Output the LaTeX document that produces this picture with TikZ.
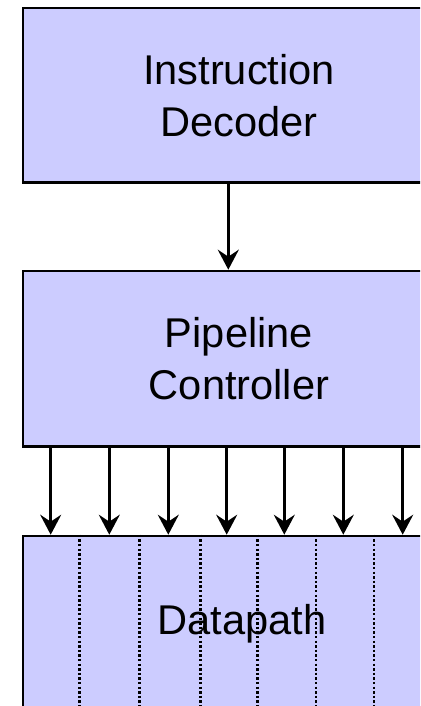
\documentclass[tikz,border=0pt]{standalone}
\usepackage{fontspec}
\setmainfont{Liberation Sans}
\usetikzlibrary{arrows.meta}
\definecolor{blockfill}{HTML}{CCCCFF}
\begin{document}
\begin{tikzpicture}[x=1pt,y=-1pt,
  block/.style={draw=black, line width=2.6pt, fill=blockfill, rectangle,
    inner sep=0pt, minimum width=432pt, align=center,
    font=\fontsize{41.6pt}{52pt}\selectfont},
  flow/.style={line width=2.8pt, -{Stealth[length=20pt,width=21pt,inset=7pt]}},
  lane/.style={line width=2.6pt, dash pattern=on 2.4pt off 2.2pt}]
  \useasboundingbox (0,0) rectangle (420,706);
  \begin{scope}
    \clip (0,0) rectangle (420,706);
    % the three blocks, running off the right edge
    \node[block, minimum height=174.5pt] (dec) at (239,95.25) {Instruction\\Decoder};
    \node[block, minimum height=175.5pt] (pc)  at (239,358.75) {Pipeline\\Controller};
    \node[block, minimum height=175.5pt, minimum width=438pt] (dp) at (242,623.75) {Datapath};
    % stage boundaries inside the datapath
    \foreach \x [count=\i] in {79.3,139.3,200.3,257.3,316,374} {
      \coordinate (s\i) at (\x,0);
      \draw[lane] (dp.north -| s\i) -- (dp.south -| s\i);
    }
    % decoder to controller
    \coordinate (d0) at (228.3,0);
    \draw[flow] (dec.south -| d0) -- (pc.north -| d0);
    % control signals into the datapath
    \foreach \x [count=\i] in {50.7,109.3,168.3,226.7,284.3,343.3,402.7} {
      \coordinate (c\i) at (\x,0);
      \draw[flow] (pc.south -| c\i) -- (dp.north -| c\i);
    }
  \end{scope}
\end{tikzpicture}
\end{document}
